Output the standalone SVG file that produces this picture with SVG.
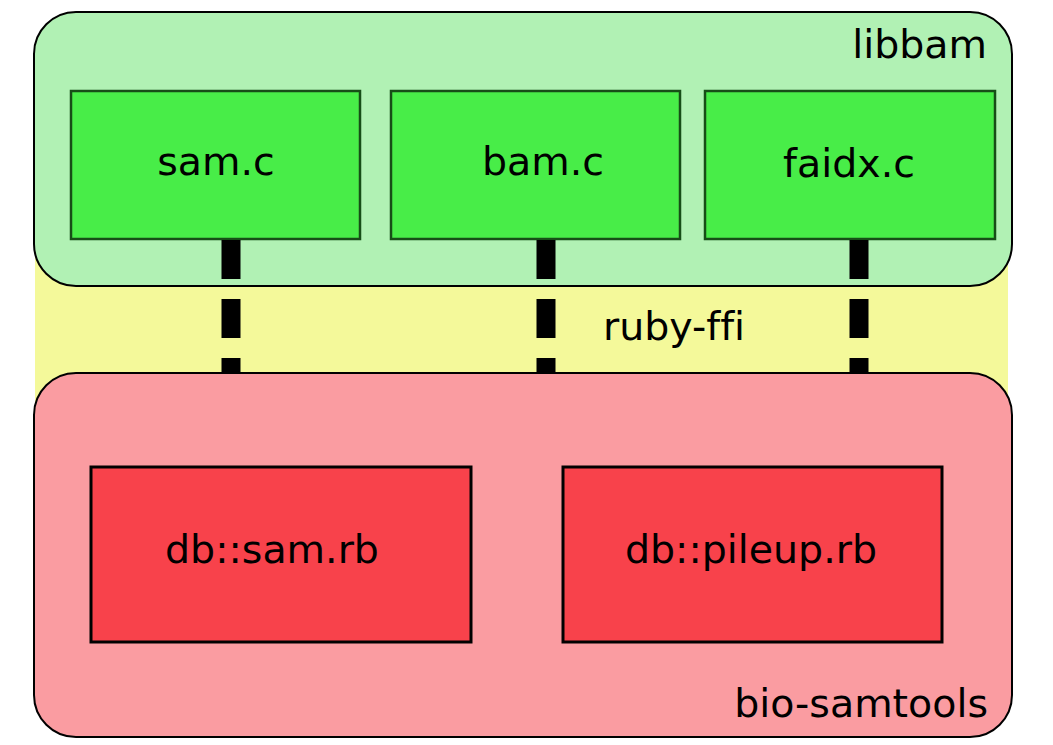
<svg xmlns="http://www.w3.org/2000/svg" width="1053" height="745" viewBox="0 0 1053 745">
<style>
text{font-family:"DejaVu Sans",Verdana,sans-serif;font-size:39.5px;fill:#000;font-variant-ligatures:none}
.grp{stroke:#000;stroke-width:2}
.cbox{fill:#48ED48;stroke:#174D17;stroke-width:2.5}
.rbox{fill:#F8424B;stroke:#000;stroke-width:3}
.conn{stroke:#000;stroke-width:19;stroke-dasharray:39 20;fill:none}
.mid{text-anchor:middle}
.end{text-anchor:end}
</style>
<rect x="0" y="0" width="1053" height="745" fill="#fff"/>
<g id="ruby-ffi">
<rect x="35" y="100" width="973" height="560" fill="#F4F99A"/>
<text x="674" y="340" class="mid">ruby-ffi</text>
</g>
<g id="libbam">
<rect class="grp" x="34" y="12" width="978" height="274" rx="42" fill="#B1F1B4"/>
<text x="987" y="58" class="end">libbam</text>
</g>
<g id="sam_c">
<rect class="cbox" x="71" y="91" width="289" height="148"/>
<text x="216" y="175" class="mid">sam.c</text>
</g>
<g id="bam_c">
<rect class="cbox" x="391" y="91" width="289" height="148"/>
<text x="543" y="175" class="mid">bam.c</text>
</g>
<g id="faidx_c">
<rect class="cbox" x="705" y="91" width="290" height="148"/>
<text x="849" y="177" class="mid">faidx.c</text>
</g>
<g id="connectors">
<line class="conn" x1="231" y1="240" x2="231" y2="373"/>
<line class="conn" x1="546" y1="240" x2="546" y2="373"/>
<line class="conn" x1="859" y1="240" x2="859" y2="373"/>
</g>
<g id="bio-samtools">
<rect class="grp" x="34" y="373" width="978" height="364" rx="42" fill="#FA9CA1"/>
<text x="988" y="717" class="end">bio-samtools</text>
</g>
<g id="db_sam_rb">
<rect class="rbox" x="91" y="467" width="380" height="175"/>
<text x="272" y="563" class="mid">db::sam.rb</text>
</g>
<g id="db_pileup_rb">
<rect class="rbox" x="563" y="467" width="379" height="175"/>
<text x="751" y="563" class="mid">db::pileup.rb</text>
</g>
</svg>
